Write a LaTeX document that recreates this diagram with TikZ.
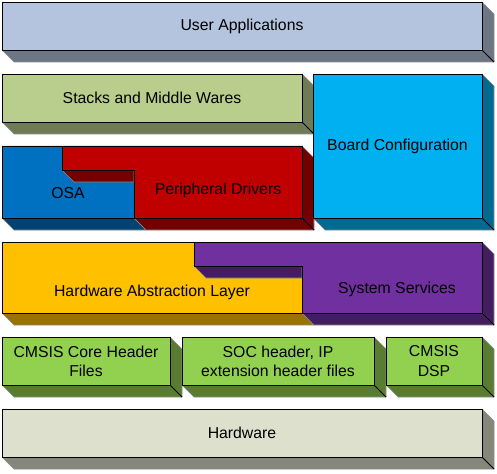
\documentclass[tikz,border=0pt]{standalone}
\usepackage{fontspec}
\setmainfont{Liberation Sans}
\usetikzlibrary{positioning}
\definecolor{uaface}{RGB}{180,196,222}
\definecolor{uaside}{RGB}{108,118,133}
\definecolor{smwface}{RGB}{185,205,140}
\definecolor{smwside}{RGB}{111,123,84}
\definecolor{bcface}{RGB}{0,176,240}
\definecolor{bcside}{RGB}{0,106,144}
\definecolor{osaface}{RGB}{0,112,192}
\definecolor{osaside}{RGB}{0,67,115}
\definecolor{pdface}{RGB}{192,0,0}
\definecolor{pdside}{RGB}{115,0,0}
\definecolor{halface}{RGB}{255,192,0}
\definecolor{halside}{RGB}{153,115,0}
\definecolor{ssface}{RGB}{112,48,160}
\definecolor{ssside}{RGB}{67,29,96}
\definecolor{cmface}{RGB}{146,208,80}
\definecolor{cmside}{RGB}{88,125,48}
\definecolor{hwface}{RGB}{221,224,204}
\definecolor{hwside}{RGB}{133,135,123}
\tikzstyle{layer} = [draw=black,line width=0.8pt,rectangle,inner sep=0,outer sep=0,align=center,font=\fontsize{15.8pt}{19.3pt}\selectfont]
\tikzstyle{side} = [draw=black!45,line width=0.6pt,line join=round]
\tikzstyle{face} = [draw=black,line width=0.8pt,line join=miter]
\tikzstyle{label} = [inner sep=0,font=\fontsize{15.8pt}{19.3pt}\selectfont]
\def \dd {12}

\begin{document}
\begin{tikzpicture}[x=1pt,y=-1pt]
  \useasboundingbox (0,0) rectangle (497,473);
  % user applications
  \node[layer,fill=uaface,minimum width=480,minimum height=48] (ua) at (242,26) {};
  \filldraw[side,fill=uaside] (ua.south west) -- ++(\dd,\dd) -- ([shift={(\dd,\dd)}]ua.south east) -- ([shift={(\dd,\dd)}]ua.north east) -- (ua.north east) -- (ua.south east) -- cycle;
  \draw[face] (ua.south east) -- ++(\dd,\dd);
  \node[layer,fill=uaface,minimum width=480,minimum height=48] at (ua) {User Applications};
  % stacks and middle wares
  \node[layer,fill=smwface,minimum width=300,minimum height=48] (smw) at (152,98) {};
  \filldraw[side,fill=smwside] (smw.south west) -- ++(\dd,\dd) -- ([shift={(\dd,\dd)}]smw.south east) -- ([shift={(\dd,\dd)}]smw.north east) -- (smw.north east) -- (smw.south east) -- cycle;
  \draw[face] (smw.south east) -- ++(\dd,\dd);
  \node[layer,fill=smwface,minimum width=300,minimum height=48] at (smw) {Stacks and Middle Wares};
  % OSA and peripheral drivers
  \filldraw[side,fill=osaside] (2,218) -- (134,218) -- (146,230) -- (14,230) -- cycle;
  \filldraw[face,fill=osaface] (2,146) -- (62,146) -- (62,170) -- (134,170) -- (134,218) -- (2,218) -- cycle;
  \filldraw[side,fill=pdside] (134,218) -- (302,218) -- (314,230) -- (146,230) -- cycle;
  \filldraw[side,fill=pdside] (302,146) -- (314,158) -- (314,230) -- (302,218) -- cycle;
  \filldraw[side,fill=pdside] (62,170) -- (134,170) -- (134,182) -- (74,182) -- cycle;
  \draw[face] (302,218) -- (314,230);
  \filldraw[face,fill=pdface] (62,146) -- (302,146) -- (302,218) -- (134,218) -- (134,170) -- (62,170) -- cycle;
  \node[label] (osa) at (68,193) {OSA};
  \node[label] (pd) at (218,190) {Peripheral Drivers};
  % board configuration
  \node[layer,fill=bcface,minimum width=169,minimum height=144] (bc) at (397.5,146) {};
  \filldraw[side,fill=bcside] (bc.south west) -- ++(\dd,\dd) -- ([shift={(\dd,\dd)}]bc.south east) -- ([shift={(\dd,\dd)}]bc.north east) -- (bc.north east) -- (bc.south east) -- cycle;
  \draw[face] (bc.south east) -- ++(\dd,\dd);
  \node[layer,fill=bcface,minimum width=169,minimum height=144] at (bc) {Board Configuration};
  % HAL and system services
  \filldraw[side,fill=halside] (2,313) -- (302,313) -- (314,325) -- (14,325) -- cycle;
  \filldraw[face,fill=halface] (2,242) -- (194,242) -- (194,266) -- (302,266) -- (302,313) -- (2,313) -- cycle;
  \filldraw[side,fill=ssside] (302,313) -- (482,313) -- (494,325) -- (314,325) -- cycle;
  \filldraw[side,fill=ssside] (482,242) -- (494,254) -- (494,325) -- (482,313) -- cycle;
  \filldraw[side,fill=ssside] (194,266) -- (302,266) -- (302,278) -- (206,278) -- cycle;
  \draw[face] (482,313) -- (494,325);
  \filldraw[face,fill=ssface] (194,242) -- (482,242) -- (482,313) -- (302,313) -- (302,266) -- (194,266) -- cycle;
  \node[label] (hal) at (152,292) {Hardware Abstraction Layer};
  \node[label] (ss) at (397,289) {System Services};
  % CMSIS row
  \node[layer,fill=cmface,minimum width=168,minimum height=48] (core) at (86,361) {};
  \node[layer,fill=cmface,minimum width=192,minimum height=48,right=12pt of core] (soc) {};
  \node[layer,fill=cmface,minimum width=96,minimum height=48,right=12pt of soc] (dsp) {};
  \foreach \b in {core,soc,dsp} {
    \filldraw[side,fill=cmside] (\b.south west) -- ++(\dd,\dd) -- ([shift={(\dd,\dd)}]\b.south east) -- ([shift={(\dd,\dd)}]\b.north east) -- (\b.north east) -- (\b.south east) -- cycle;
    \draw[face] (\b.south east) -- ++(\dd,\dd);
  }
  \node[layer,fill=cmface,minimum width=168,minimum height=48] at (core) {CMSIS Core Header\\Files};
  \node[layer,fill=cmface,minimum width=192,minimum height=48] at (soc) {SOC header, IP\\extension header files};
  \node[layer,fill=cmface,minimum width=96,minimum height=48] at (dsp) {CMSIS\\DSP};
  % hardware
  \node[layer,fill=hwface,minimum width=480,minimum height=48] (hw) at (242,433) {};
  \filldraw[side,fill=hwside] (hw.south west) -- ++(\dd,\dd) -- ([shift={(\dd,\dd)}]hw.south east) -- ([shift={(\dd,\dd)}]hw.north east) -- (hw.north east) -- (hw.south east) -- cycle;
  \draw[face] (hw.south east) -- ++(\dd,\dd);
  \node[layer,fill=hwface,minimum width=480,minimum height=48] at (hw) {Hardware};
\end{tikzpicture}
\end{document}
